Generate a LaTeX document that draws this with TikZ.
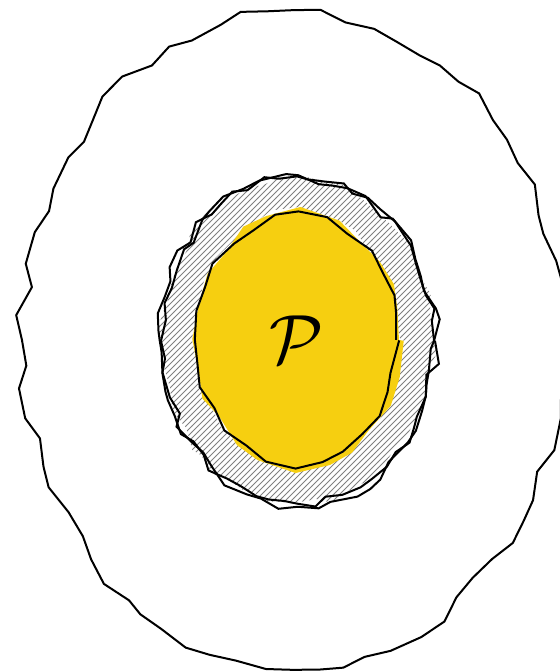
\documentclass[tikz,border=0pt]{standalone}
\usepackage{tikz}
\usetikzlibrary{decorations.pathmorphing,patterns}
\definecolor{Pyellow}{HTML}{F6CF10}
\tikzset{
  rough/.style={decorate, decoration={random steps, segment length=#1, amplitude=2pt}},
  rougher/.style={decorate, decoration={random steps, segment length=#1, amplitude=3.2pt}},
  rim/.style={line width=1pt, line join=miter},
  hatch/.style={pattern=north east lines, pattern color=black!50}
}

\begin{document}
\begin{tikzpicture}
\pgfmathsetseed{7}
\useasboundingbox (-148.5pt,-166pt) rectangle (131pt,170pt);
% outer region
\draw[rim, rougher=13pt] (-2pt,0) ellipse [x radius=135pt, y radius=164pt];
% hatched ring
\fill[hatch, rough=8pt] (0,0) ellipse [x radius=68pt, y radius=81pt];
\draw[rim, rough=8pt] (0,0) ellipse [x radius=68.5pt, y radius=81.5pt];
\pgfmathsetseed{31}
\draw[rim, rougher=9pt] (0.5pt,-0.5pt) ellipse [x radius=68pt, y radius=82pt];
% the yellow set
\fill[white, rough=12pt] (0.5pt,0) ellipse [x radius=51pt, y radius=63pt];
\fill[Pyellow, rough=14pt] (0.5pt,0) ellipse [x radius=50.5pt, y radius=62.5pt];
\pgfmathsetseed{5}
\draw[rim, rough=12pt] (0,0) ellipse [x radius=49.5pt, y radius=61.5pt];
\node[scale=1.4, font=\Huge] (lbl) at (0,0) {$\mathcal{P}$};
\end{tikzpicture}
\end{document}
